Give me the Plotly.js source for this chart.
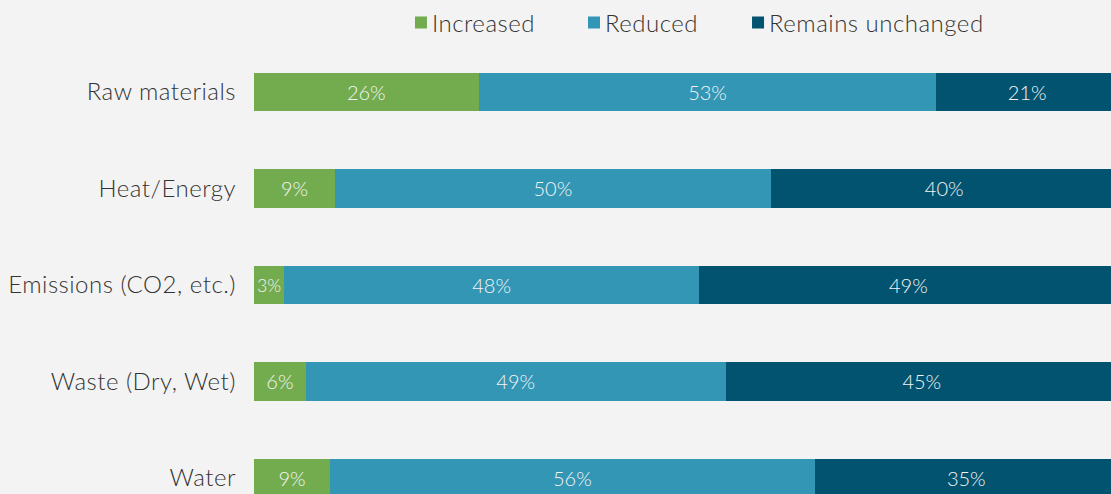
<!DOCTYPE html>
<html>
<head>
<meta charset="utf-8">
<script src="https://cdn.plot.ly/plotly-3.0.1.min.js"></script>
<style>
  body { margin: 0; background: #f3f3f3; }
  #chart { width: 1111px; height: 494px; }
  /* the reference type is a bit wider than Lato; legend text sits close to its swatch */
  #chart .ytick text { letter-spacing: 0.5px; }
  #chart .legendtext, #chart .legend2text, #chart .legend3text {
    letter-spacing: 0.5px;
    transform: translateX(-9px);
  }
</style>
</head>
<body>
<div id="chart"></div>
<script>
// categories top to bottom
const categories = ['Raw materials', 'Heat/Energy', 'Emissions (CO2, etc.)', 'Waste (Dry, Wet)', 'Water'];

// shares in %
const increased = [26, 9.4, 3.5, 6.0, 8.8];
const reduced = [53, 50.4, 48.0, 48.6, 56.1];
const unchanged = [21, 40.2, 48.5, 45.4, 35.1];

// printed labels
const increasedLabels = ['26%', '9%', '3%', '6%', '9%'];
const reducedLabels = ['53%', '50%', '48%', '49%', '56%'];
const unchangedLabels = ['21%', '40%', '49%', '45%', '35%'];

const seriesNames = ['Increased', 'Reduced', 'Remains unchanged'];
const seriesColors = ['#73ac4f', '#3296b4', '#02536f'];
const legendIds = ['legend', 'legend2', 'legend3'];
const legendX = [0.1715, 0.3734, 0.5648];

function makeTrace(values, labels, i) {
    return {
        type: 'bar',
        orientation: 'h',
        name: seriesNames[i],
        legend: legendIds[i],
        x: values,
        y: categories,
        text: labels,
        textposition: 'inside',
        insidetextanchor: 'middle',
        textangle: 0,
        insidetextfont: { family: 'Lato, sans-serif', size: 20, weight: 300, color: '#f4f4f4' },
        marker: { color: seriesColors[i], line: { width: 0 } },
        hoverinfo: 'skip'
    };
}

let data = [
    makeTrace(increased, increasedLabels, 0),
    makeTrace(reduced, reducedLabels, 1),
    makeTrace(unchanged, unchangedLabels, 2)
];

function makeLegend(i) {
    return {
        orientation: 'h',
        x: legendX[i],
        xanchor: 'left',
        y: 1.0608,
        yanchor: 'middle',
        itemwidth: 30,
        bgcolor: 'rgba(0,0,0,0)',
        font: { family: 'Lato, sans-serif', size: 24, weight: 300, color: '#333333' }
    };
}

let layout = {
    width: 1111,
    height: 494,
    barmode: 'stack',
    bargap: 0.6,
    paper_bgcolor: '#f3f3f3',
    plot_bgcolor: '#f3f3f3',
    margin: { l: 254, r: 0, t: 50, b: 0 },
    font: { family: 'Lato, sans-serif', size: 24, weight: 300, color: '#333333' },
    showlegend: true,
    legend: makeLegend(0),
    legend2: makeLegend(1),
    legend3: makeLegend(2),
    xaxis: {
        range: [0, 99.2],
        showgrid: false,
        zeroline: false,
        showticklabels: false,
        fixedrange: true
    },
    yaxis: {
        type: 'category',
        range: [4.166, -0.435],
        showgrid: false,
        zeroline: false,
        ticklabelstandoff: 17,
        tickfont: { family: 'Lato, sans-serif', size: 24, weight: 300, color: '#333333' },
        fixedrange: true
    }
};

Plotly.newPlot('chart', data, layout, { displayModeBar: false, staticPlot: true });
</script>
</body>
</html>
